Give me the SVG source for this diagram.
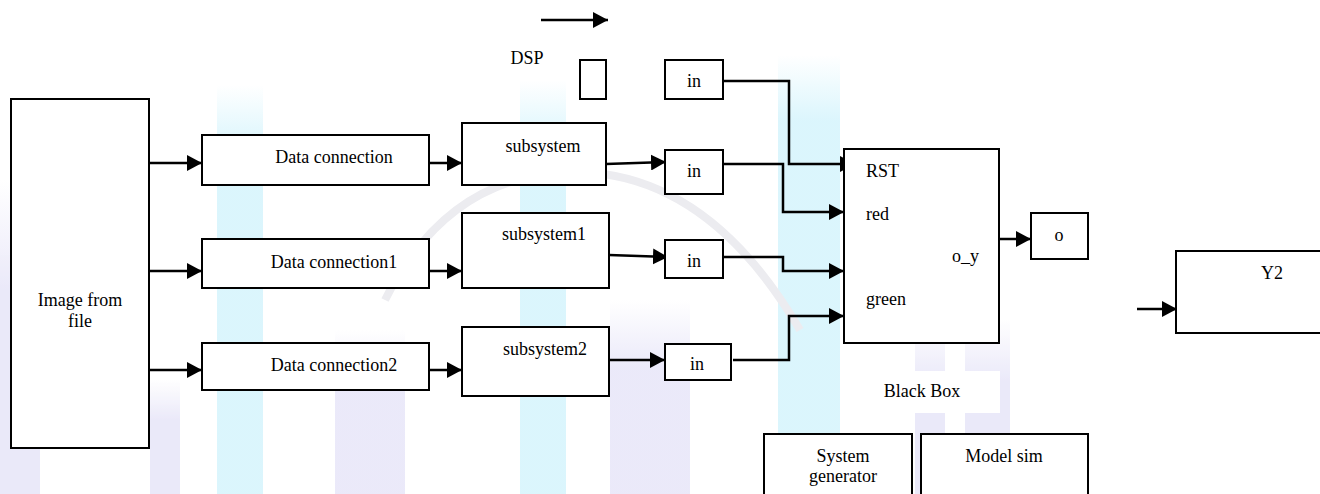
<svg xmlns="http://www.w3.org/2000/svg" width="1320" height="494" viewBox="0 0 1320 494">
<defs>
<style>
.box{fill:#fff;stroke:#000;stroke-width:2}
.c{text-anchor:middle}
.wire{fill:none;stroke:#000;stroke-width:2.5}
.wm{stroke:none}
</style>
<marker id="ah" markerWidth="16" markerHeight="16" refX="15" refY="8" orient="auto" markerUnits="userSpaceOnUse">
<path d="M0,0 L15,8 L0,16 Z" fill="#000"/>
</marker>
<linearGradient id="cy" x1="0" y1="0" x2="0" y2="1">
<stop offset="0" stop-color="#d2f3fc" stop-opacity="0"/>
<stop offset="0.15" stop-color="#d2f3fc" stop-opacity="1"/>
<stop offset="1" stop-color="#d2f3fc" stop-opacity="1"/>
</linearGradient>
<linearGradient id="pu" x1="0" y1="0" x2="0" y2="1">
<stop offset="0" stop-color="#e2e0f7" stop-opacity="0"/>
<stop offset="0.35" stop-color="#e2e0f7" stop-opacity="1"/>
<stop offset="1" stop-color="#e2e0f7" stop-opacity="1"/>
</linearGradient>
</defs>
<rect width="1320" height="494" fill="#fff"/>
<g id="watermark">
<rect class="wm" x="217" y="85" width="46" height="409" fill="url(#cy)" opacity="0.8"/>
<rect class="wm" x="520" y="80" width="46" height="414" fill="url(#cy)" opacity="0.8"/>
<rect class="wm" x="778" y="55" width="62" height="439" fill="url(#cy)" opacity="0.8"/>
<g opacity="0.7">
<rect class="wm" x="0" y="180" width="40" height="314" fill="url(#pu)"/>
<rect class="wm" x="150" y="380" width="30" height="114" fill="url(#pu)"/>
<rect class="wm" x="335" y="330" width="70" height="164" fill="url(#pu)"/>
<rect class="wm" x="610" y="300" width="80" height="194" fill="url(#pu)"/>
<rect class="wm" x="915" y="320" width="30" height="174" fill="url(#pu)"/>
<rect class="wm" x="965" y="320" width="45" height="174" fill="url(#pu)"/>
</g>
<path d="M385,300 Q450,170 580,172 Q710,176 800,330" fill="none" stroke="#ececf0" stroke-width="8"/>
</g>
<rect x="482" y="35" width="85" height="46" fill="#fff"/>
<rect x="844" y="371" width="156" height="42" fill="#fff"/>

<g id="connectors">
<line class="wire" x1="541" y1="20" x2="608" y2="20" marker-end="url(#ah)"/>
<line class="wire" x1="149" y1="163" x2="202" y2="163" marker-end="url(#ah)"/>
<line class="wire" x1="149" y1="271" x2="202" y2="271" marker-end="url(#ah)"/>
<line class="wire" x1="149" y1="370" x2="202" y2="370" marker-end="url(#ah)"/>
<line class="wire" x1="429" y1="163" x2="462" y2="163" marker-end="url(#ah)"/>
<line class="wire" x1="429" y1="271" x2="462" y2="271" marker-end="url(#ah)"/>
<line class="wire" x1="429" y1="370" x2="462" y2="370" marker-end="url(#ah)"/>
<line class="wire" x1="606" y1="164" x2="666" y2="162" marker-end="url(#ah)"/>
<line class="wire" x1="609" y1="255" x2="668" y2="257" marker-end="url(#ah)"/>
<line class="wire" x1="609" y1="360" x2="665" y2="360" marker-end="url(#ah)"/>
<polyline class="wire" points="723,81 789,81 789,164 855,164" marker-end="url(#ah)"/>
<polyline class="wire" points="723,164 783,164 783,212 844,212" marker-end="url(#ah)"/>
<polyline class="wire" points="723,257 783,257 783,271 844,271" marker-end="url(#ah)"/>
<polyline class="wire" points="733,360 789,360 789,316 844,316" marker-end="url(#ah)"/>
<line class="wire" x1="999" y1="239" x2="1031" y2="239" marker-end="url(#ah)"/>
<line class="wire" x1="1137" y1="309" x2="1177" y2="309" marker-end="url(#ah)"/>
</g>

<g id="dsp-label"><text class="c" x="527" y="64" style="font-family:'Liberation Serif','Times New Roman',serif;font-size:18px">DSP</text></g>
<g id="dsp-box"><rect class="box" x="580" y="60" width="26" height="39"/></g>

<g id="image-from-file">
<rect class="box" x="11" y="99" width="138" height="349"/>
<text class="c" x="80" y="306" style="font-family:'Liberation Serif','Times New Roman',serif;font-size:18px">Image from</text>
<text class="c" x="80" y="327" style="font-family:'Liberation Serif','Times New Roman',serif;font-size:18px">file</text>
</g>

<g id="data-connection">
<rect class="box" x="202" y="135" width="227" height="50"/>
<text class="c" x="334" y="163" style="font-family:'Liberation Serif','Times New Roman',serif;font-size:18px">Data connection</text>
</g>
<g id="data-connection1">
<rect class="box" x="202" y="239" width="227" height="49"/>
<text class="c" x="334" y="268" style="font-family:'Liberation Serif','Times New Roman',serif;font-size:18px">Data connection1</text>
</g>
<g id="data-connection2">
<rect class="box" x="202" y="343" width="227" height="47"/>
<text class="c" x="334" y="371" style="font-family:'Liberation Serif','Times New Roman',serif;font-size:18px">Data connection2</text>
</g>

<g id="subsystem">
<rect class="box" x="462" y="123" width="144" height="62"/>
<text class="c" x="543" y="152" style="font-family:'Liberation Serif','Times New Roman',serif;font-size:18px">subsystem</text>
</g>
<g id="subsystem1">
<rect class="box" x="462" y="213" width="147" height="75"/>
<text class="c" x="544" y="240" style="font-family:'Liberation Serif','Times New Roman',serif;font-size:18px">subsystem1</text>
</g>
<g id="subsystem2">
<rect class="box" x="462" y="327" width="147" height="69"/>
<text class="c" x="545" y="355" style="font-family:'Liberation Serif','Times New Roman',serif;font-size:18px">subsystem2</text>
</g>

<g id="in-rst">
<rect class="box" x="665" y="60" width="58" height="39"/>
<text class="c" x="694" y="87" style="font-family:'Liberation Serif','Times New Roman',serif;font-size:18px">in</text>
</g>
<g id="in-red">
<rect class="box" x="665" y="150" width="58" height="44"/>
<text class="c" x="694" y="177" style="font-family:'Liberation Serif','Times New Roman',serif;font-size:18px">in</text>
</g>
<g id="in-3">
<rect class="box" x="665" y="240" width="58" height="38"/>
<text class="c" x="694" y="267" style="font-family:'Liberation Serif','Times New Roman',serif;font-size:18px">in</text>
</g>
<g id="in-green">
<rect class="box" x="665" y="344" width="66" height="36"/>
<text class="c" x="697" y="370" style="font-family:'Liberation Serif','Times New Roman',serif;font-size:18px">in</text>
</g>

<g id="black-box">
<rect class="box" x="844" y="149" width="155" height="194"/>
<text x="866" y="177" style="font-family:'Liberation Serif','Times New Roman',serif;font-size:18px">RST</text>
<text x="866" y="220" style="font-family:'Liberation Serif','Times New Roman',serif;font-size:18px">red</text>
<text x="866" y="305" style="font-family:'Liberation Serif','Times New Roman',serif;font-size:18px">green</text>
<text x="952" y="262" style="font-family:'Liberation Serif','Times New Roman',serif;font-size:18px">o_y</text>
<text class="c" x="922" y="397" style="font-family:'Liberation Serif','Times New Roman',serif;font-size:18px">Black Box</text>
</g>

<g id="o-out">
<rect class="box" x="1031" y="213" width="57" height="46"/>
<text class="c" x="1059" y="241" style="font-family:'Liberation Serif','Times New Roman',serif;font-size:18px">o</text>
</g>

<g id="y2">
<rect class="box" x="1176" y="251" width="150" height="82"/>
<text class="c" x="1272" y="279" style="font-family:'Liberation Serif','Times New Roman',serif;font-size:18px">Y2</text>
</g>

<g id="system-generator">
<rect class="box" x="764" y="434" width="148" height="70"/>
<text class="c" x="843" y="462" style="font-family:'Liberation Serif','Times New Roman',serif;font-size:18px">System</text>
<text class="c" x="843" y="482" style="font-family:'Liberation Serif','Times New Roman',serif;font-size:18px">generator</text>
</g>
<g id="model-sim">
<rect class="box" x="921" y="434" width="167" height="70"/>
<text class="c" x="1004" y="462" style="font-family:'Liberation Serif','Times New Roman',serif;font-size:18px">Model sim</text>
</g>
</svg>
